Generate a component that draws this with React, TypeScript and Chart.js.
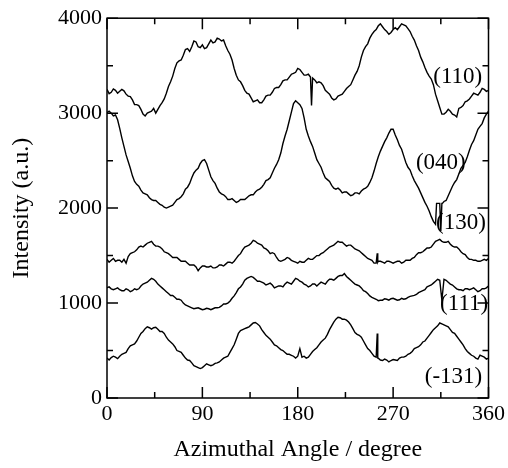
import React, { useEffect, useRef } from "react";
import { Chart, registerables } from "chart.js";

Chart.register(...registerables);

const angles = [
  0, 4, 8, 12, 16, 20, 24, 28, 32, 36, 40, 44, 48, 52, 56, 60, 64, 68, 72, 76, 80, 84, 88, 92, 96, 100,
  104, 108, 112, 116, 120, 124, 128, 132, 136, 140, 144, 148, 152, 156, 160, 164, 168, 172, 176, 180,
  184, 188, 192, 196, 200, 204, 208, 212, 216, 220, 224, 228, 232, 236, 240, 244, 248, 252, 256, 260,
  264, 268, 272, 276, 280, 284, 288, 292, 296, 300, 304, 308, 312, 316, 320, 324, 328, 332, 336, 340,
  344, 348, 352, 356, 360,
];
const midAngles = [
  2, 6, 10, 14, 18, 22, 26, 30, 34, 38, 42, 46, 50, 54, 58, 62, 66, 70, 74, 78, 82, 86, 90, 94, 98, 102,
  106, 110, 114, 118, 122, 126, 130, 134, 138, 142, 146, 150, 154, 158, 162, 166, 170, 174, 178, 182,
  186, 190, 194, 198, 202, 206, 210, 214, 218, 222, 226, 230, 234, 238, 242, 246, 250, 254, 258, 262,
  266, 270, 274, 278, 282, 286, 290, 294, 298, 302, 306, 310, 314, 318, 322, 326, 330, 334, 338, 342,
  346, 350, 354, 358,
];

const s110 = [
  3250, 3220, 3240, 3230, 3235, 3180, 3140, 3090, 3040, 2970, 3010, 3050, 3040, 3110, 3210, 3330, 3470,
  3550, 3610, 3680, 3700, 3750, 3690, 3680, 3730, 3740, 3790, 3760, 3710, 3620, 3470, 3350, 3290, 3210,
  3160, 3130, 3110, 3140, 3190, 3220, 3270, 3300, 3350, 3380, 3420, 3470, 3430, 3400, 3380, 3350, 3330,
  3290, 3220, 3160, 3150, 3190, 3230, 3280, 3350, 3440, 3590, 3700, 3790, 3860, 3920, 3910, 3860, 3850,
  3900, 3910, 3930, 3890, 3810, 3710, 3590, 3480, 3390, 3300, 3130, 2990, 3010, 3020, 2980, 3050, 3080,
  3130, 3180, 3200, 3220, 3250, 3240,
];
const s110Mid = [
  3205, 3255, 3210, 3250, 3200, 3175, 3090, 3080, 2990, 3000, 3020, 3000, 3080, 3150, 3280, 3390, 3530,
  3560, 3670, 3650, 3760, 3700, 3720, 3690, 3770, 3750, 3780, 3770, 3660, 3560, 3400, 3330, 3240, 3200,
  3120, 3140, 3110, 3180, 3190, 3260, 3270, 3340, 3350, 3410, 3430, 3460, 3400, 3410, 3370, 3320, 3320,
  3240, 3200, 3140, 3180, 3200, 3260, 3300, 3400, 3500, 3660, 3730, 3830, 3880, 3940, 3880, 3830, 3880,
  3880, 3940, 3920, 3860, 3770, 3660, 3540, 3430, 3360, 3200, 3060, 2990, 3040, 2990, 2960, 3060, 3120,
  3150, 3210, 3190, 3260, 3230,
];
const s040 = [
  3005, 3000, 2980, 2840, 2650, 2490, 2340, 2250, 2190, 2150, 2110, 2080, 2060, 2030, 2000, 2020, 2060,
  2100, 2150, 2220, 2320, 2400, 2470, 2510, 2400, 2290, 2210, 2150, 2120, 2090, 2080, 2070, 2090, 2110,
  2140, 2170, 2200, 2250, 2300, 2370, 2460, 2580, 2760, 2920, 3100, 3110, 3050, 2830, 2700, 2580, 2470,
  2370, 2300, 2240, 2200, 2190, 2170, 2150, 2140, 2160, 2180, 2210, 2270, 2390, 2540, 2650, 2740, 2830,
  2770, 2660, 2550, 2430, 2340, 2250, 2160, 2060, 1970, 1860, 2050, 2050, 2080, 2180, 2270, 2360, 2450,
  2540, 2670, 2770, 2860, 2950, 3020,
];
const s040Mid = [
  3020, 2970, 2930, 2740, 2560, 2420, 2280, 2230, 2160, 2140, 2090, 2080, 2040, 2010, 2010, 2030, 2090,
  2120, 2200, 2260, 2370, 2420, 2500, 2470, 2330, 2260, 2170, 2140, 2090, 2100, 2060, 2090, 2090, 2130,
  2140, 2190, 2220, 2290, 2320, 2420, 2510, 2680, 2830, 3010, 3130, 3090, 2950, 2760, 2650, 2510, 2430,
  2320, 2280, 2210, 2210, 2160, 2170, 2130, 2160, 2150, 2200, 2230, 2320, 2470, 2600, 2700, 2790, 2830,
  2720, 2620, 2480, 2400, 2290, 2210, 2110, 2020, 1910, 1830, 2050, 2070, 2130, 2230, 2300, 2420, 2480,
  2610, 2710, 2830, 2890, 2990,
];
const s130 = [
  1460, 1450, 1440, 1450, 1460, 1490, 1530, 1560, 1600, 1610, 1640, 1620, 1600, 1570, 1530, 1500, 1480,
  1460, 1440, 1420, 1400, 1380, 1370, 1390, 1380, 1370, 1380, 1400, 1410, 1430, 1440, 1500, 1560, 1600,
  1630, 1650, 1620, 1580, 1550, 1530, 1480, 1440, 1460, 1470, 1440, 1420, 1430, 1450, 1460, 1480, 1500,
  1530, 1570, 1600, 1630, 1640, 1620, 1610, 1590, 1560, 1530, 1490, 1460, 1420, 1440, 1430, 1440, 1430,
  1430, 1440, 1430, 1450, 1470, 1510, 1530, 1560, 1580, 1620, 1660, 1650, 1640, 1620, 1590, 1570, 1520,
  1480, 1460, 1450, 1440, 1460, 1470,
];
const s130Mid = [
  1430, 1470, 1450, 1430, 1420, 1520, 1540, 1590, 1590, 1630, 1650, 1600, 1590, 1540, 1520, 1480, 1480,
  1440, 1440, 1400, 1400, 1340, 1390, 1380, 1390, 1370, 1400, 1390, 1430, 1420, 1470, 1520, 1590, 1610,
  1660, 1630, 1610, 1570, 1520, 1520, 1450, 1450, 1480, 1450, 1430, 1440, 1430, 1470, 1460, 1500, 1520,
  1550, 1590, 1610, 1650, 1640, 1600, 1610, 1570, 1550, 1510, 1470, 1450, 1420, 1440, 1420, 1440, 1420,
  1440, 1420, 1450, 1450, 1480, 1530, 1540, 1580, 1590, 1650, 1670, 1640, 1650, 1600, 1590, 1540, 1510,
  1460, 1450, 1440, 1450, 1450,
];
const s111 = [
  1160, 1150, 1150, 1140, 1130, 1140, 1130, 1140, 1180, 1210, 1240, 1250, 1200, 1160, 1120, 1080, 1060,
  1040, 1000, 970, 950, 945, 940, 935, 940, 940, 950, 970, 990, 1020, 1075, 1150, 1200, 1260, 1280, 1250,
  1230, 1210, 1200, 1190, 1170, 1180, 1200, 1210, 1230, 1250, 1220, 1190, 1180, 1200, 1200, 1210, 1230,
  1250, 1260, 1290, 1310, 1260, 1220, 1190, 1160, 1120, 1075, 1050, 1025, 1030, 1040, 1045, 1040, 1035,
  1040, 1060, 1075, 1090, 1120, 1140, 1180, 1210, 1250, 1030, 1240, 1200, 1170, 1140, 1130, 1150, 1150,
  1140, 1130, 1150, 1180,
];
const s111Mid = [
  1170, 1140, 1160, 1130, 1150, 1120, 1150, 1150, 1200, 1220, 1260, 1230, 1180, 1140, 1100, 1080, 1040,
  1030, 980, 960, 940, 950, 930, 945, 930, 950, 955, 990, 1000, 1050, 1110, 1170, 1240, 1270, 1270, 1230,
  1220, 1190, 1210, 1160, 1180, 1170, 1220, 1200, 1260, 1230, 1200, 1170, 1200, 1180, 1220, 1200, 1250,
  1240, 1280, 1290, 1280, 1240, 1200, 1180, 1130, 1100, 1060, 1040, 1030, 1045, 1030, 1050, 1030, 1050,
  1045, 1070, 1080, 1110, 1130, 1170, 1190, 1230, 1240, 1250, 1220, 1190, 1150, 1140, 1150, 1140, 1160,
  1120, 1150, 1160,
];
const sm131 = [
  420, 425, 430, 440, 470, 520, 560, 600, 680, 730, 740, 740, 725, 700, 640, 590, 540, 490, 450, 400, 370,
  330, 310, 340, 350, 350, 370, 400, 430, 480, 560, 680, 720, 740, 770, 795, 760, 690, 640, 590, 550, 510,
  480, 460, 440, 440, 430, 420, 460, 510, 560, 610, 670, 760, 830, 845, 830, 800, 730, 670, 640, 560, 500,
  440, 420, 395, 400, 395, 400, 420, 430, 460, 490, 530, 560, 600, 660, 720, 760, 780, 760, 720, 680, 620,
  560, 490, 450, 420, 450, 430, 420,
];
const sm131Mid = [
  400, 440, 415, 460, 480, 550, 570, 640, 700, 750, 725, 745, 700, 680, 610, 570, 500, 480, 420, 395, 340,
  320, 320, 360, 340, 365, 380, 420, 440, 520, 620, 710, 730, 750, 790, 780, 720, 660, 620, 560, 530, 500,
  460, 450, 420, 520, 440, 430, 490, 530, 590, 630, 720, 800, 850, 830, 820, 770, 690, 660, 600, 520, 470,
  430, 400, 410, 380, 405, 395, 430, 440, 470, 520, 540, 590, 630, 690, 740, 790, 770, 750, 690, 650, 590,
  520, 470, 440, 410, 440, 410,
];

// narrow glitches (extra samples between the regular angles)
const spike110Angles = [193];
const spike110Values = [3080];
const spike040Angles = [311, 315, 316.5];
const spike040Values = [2050, 1760, 2050];
const spike130Angles = [255, 255.5];
const spike130Values = [1525, 1430];
const spike111Angles: number[] = [];
const spike111Values: number[] = [];
const spikem131Angles = [255, 255.5];
const spikem131Values = [680, 420];

const seriesLabels = ["(110)", "(040)", "(130)", "(111)", "(-131)"];
const labelAngles = [331, 315, 334, 337, 327];
const labelValues = [3383, 2474, 1848, 992, 219];

const xTicks = [0, 90, 180, 270, 360];
const yTicks = [0, 1000, 2000, 3000, 4000];

function buildPoints(vals: number[], mids: number[], extraA: number[], extraV: number[]) {
  const pts = angles.map((a, i) => ({ x: a, y: vals[i] }));
  midAngles.forEach((a, i) => pts.push({ x: a, y: mids[i] }));
  extraA.forEach((a, i) => pts.push({ x: a, y: extraV[i] }));
  pts.sort((p, q) => p.x - q.x);
  return pts;
}

const FONT = "'Liberation Serif', 'Times New Roman', serif";

const framePlugin = {
  id: "frameTicks",
  afterDatasetsDraw(chart: any) {
    const { ctx, chartArea, scales } = chart;
    const { left, right, top, bottom } = chartArea;
    ctx.save();
    ctx.strokeStyle = "#000";
    ctx.lineWidth = 1.5;
    ctx.strokeRect(left, top, right - left, bottom - top);
    ctx.beginPath();
    for (let a = 0; a <= 360; a += 45) {
      const px = scales.x.getPixelForValue(a);
      const len = a % 90 === 0 ? 11 : 6;
      ctx.moveTo(px, bottom);
      ctx.lineTo(px, bottom - len);
      ctx.moveTo(px, top);
      ctx.lineTo(px, top + len);
    }
    for (let v = 0; v <= 4000; v += 500) {
      const py = scales.y.getPixelForValue(v);
      const len = v % 1000 === 0 ? 11 : 6;
      ctx.moveTo(left, py);
      ctx.lineTo(left + len, py);
      ctx.moveTo(right, py);
      ctx.lineTo(right - len, py);
    }
    ctx.stroke();
    ctx.fillStyle = "#000";
    ctx.font = "23px " + FONT;
    ctx.textAlign = "center";
    ctx.textBaseline = "middle";
    seriesLabels.forEach((t, i) => {
      ctx.fillText(t, scales.x.getPixelForValue(labelAngles[i]), scales.y.getPixelForValue(labelValues[i]));
    });
    ctx.restore();
  },
};

export default function App() {
  const ref = useRef<HTMLCanvasElement | null>(null);
  useEffect(() => {
    if (!ref.current) return;
    const mk = (d: any) => ({
      data: d,
      borderColor: "#000",
      borderWidth: 1.4,
      pointRadius: 0,
      fill: false,
      tension: 0,
    });
    const chart = new Chart(ref.current, {
      type: "line",
      data: {
        datasets: [
          mk(buildPoints(s110, s110Mid, spike110Angles, spike110Values)),
          mk(buildPoints(s040, s040Mid, spike040Angles, spike040Values)),
          mk(buildPoints(s130, s130Mid, spike130Angles, spike130Values)),
          mk(buildPoints(s111, s111Mid, spike111Angles, spike111Values)),
          mk(buildPoints(sm131, sm131Mid, spikem131Angles, spikem131Values)),
        ],
      },
      options: {
        animation: false,
        responsive: false,
        maintainAspectRatio: false,
        layout: { padding: { top: 15, right: 18, left: 0, bottom: 0 } },
        plugins: { legend: { display: false }, tooltip: { enabled: false } },
        scales: {
          x: {
            type: "linear",
            min: 0,
            max: 360,
            afterBuildTicks: (s: any) => {
              s.ticks = xTicks.map((v) => ({ value: v }));
            },
            afterFit: (s: any) => {
              s.height = 70;
            },
            grid: { display: false, drawTicks: false },
            border: { display: false },
            ticks: {
              color: "#000",
              font: { family: FONT, size: 22 },
              padding: 3,
              maxRotation: 0,
              callback: (v: any) => String(v),
            },
            title: {
              display: true,
              text: "Azimuthal Angle / degree",
              color: "#000",
              font: { family: FONT, size: 24 },
              padding: { top: 0, bottom: 4 },
            },
          },
          y: {
            type: "linear",
            min: 0,
            max: 4000,
            afterBuildTicks: (s: any) => {
              s.ticks = yTicks.map((v) => ({ value: v }));
            },
            afterFit: (s: any) => {
              s.width = 107;
            },
            grid: { display: false, drawTicks: false },
            border: { display: false },
            ticks: {
              color: "#000",
              font: { family: FONT, size: 22 },
              padding: 5,
              callback: (v: any) => String(v),
            },
            title: {
              display: true,
              text: "Intensity (a.u.)",
              color: "#000",
              font: { family: FONT, size: 24 },
              padding: { top: 7, bottom: 0 },
            },
          },
        },
      },
      plugins: [framePlugin],
    });
    return () => chart.destroy();
  }, []);
  return (
    <div style={{ position: "absolute", left: 0, top: 0, width: 508, height: 468, background: "#fff" }}>
      <canvas ref={ref} width={508} height={468} style={{ width: 508, height: 468 }} />
    </div>
  );
}
